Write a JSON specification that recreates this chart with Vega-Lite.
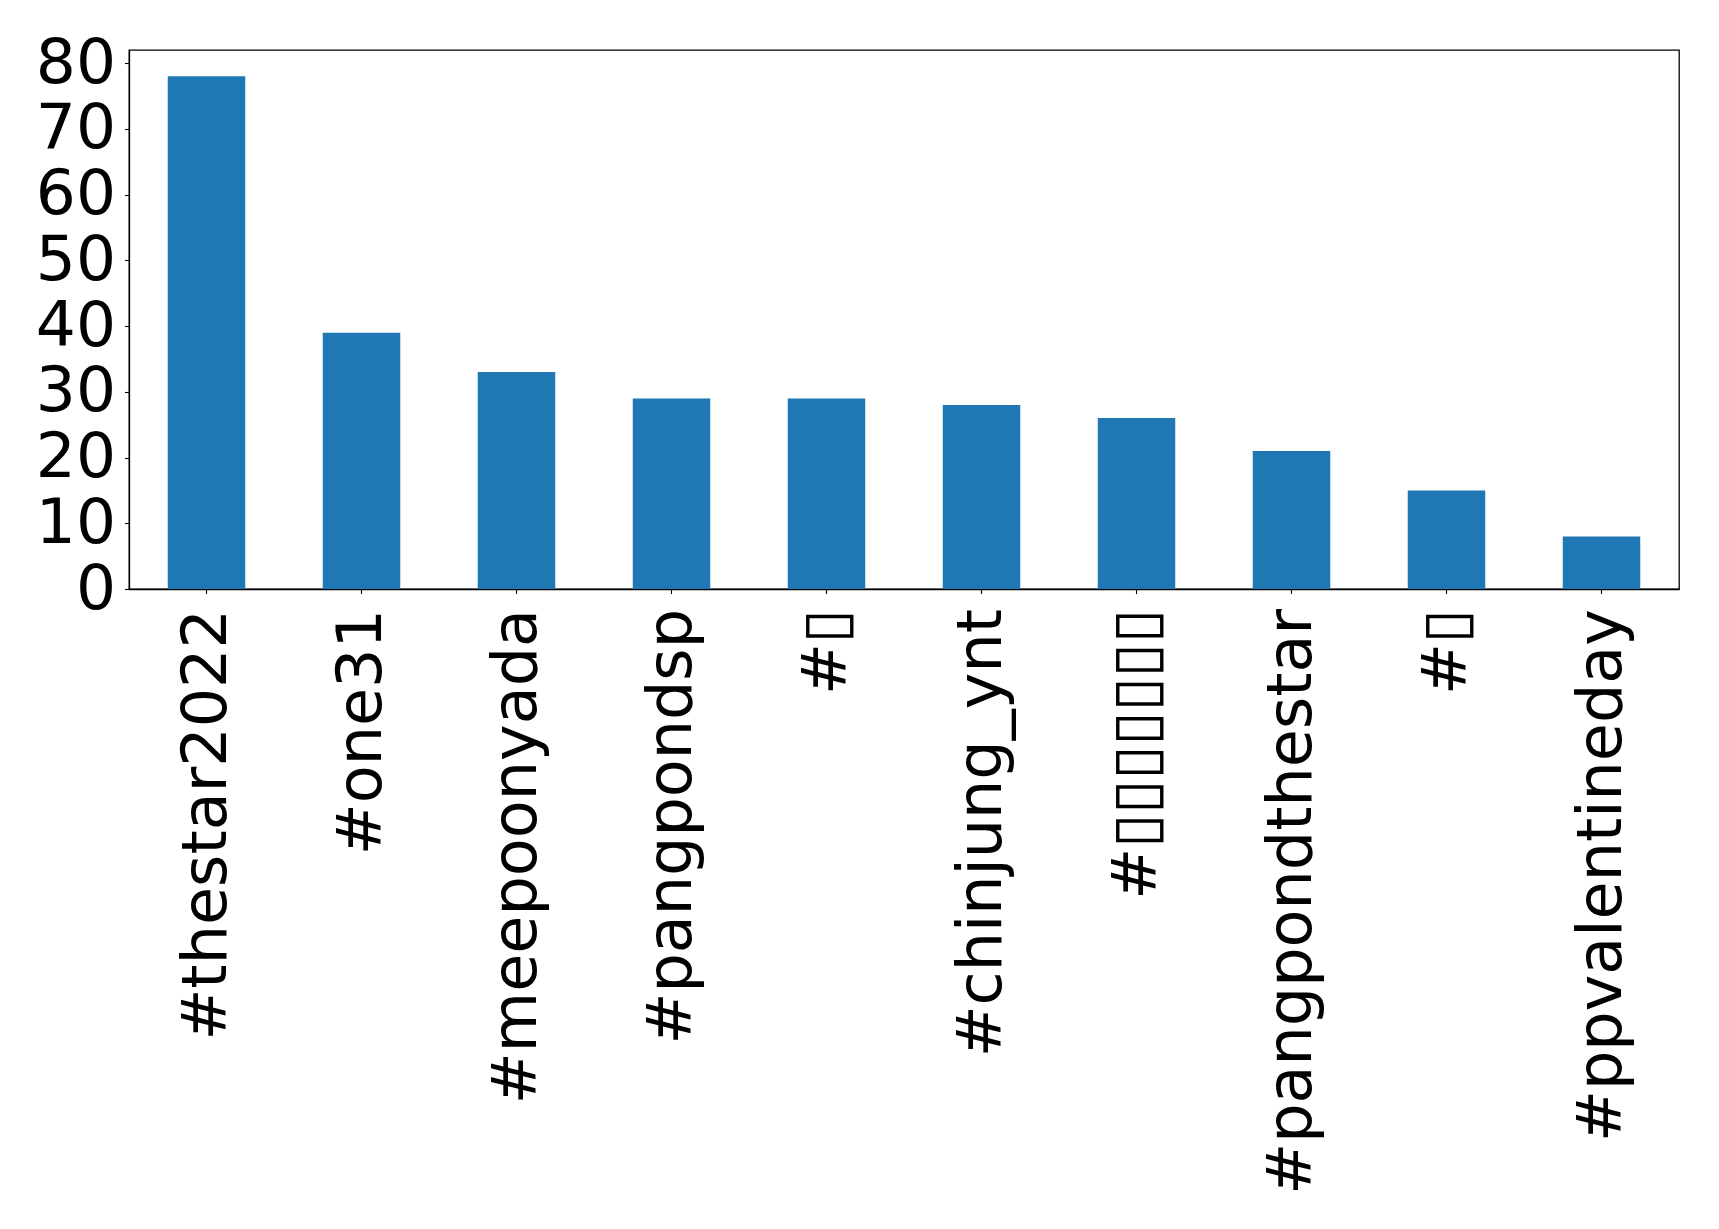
{
  "$schema": "https://vega.github.io/schema/vega-lite/v6.json",
  "width": 1550,
  "height": 539,
  "autosize": {"type": "none"},
  "padding": {"left": 129, "top": 50, "right": 40, "bottom": 640},
  "background": "white",
  "config": {
    "font": "DejaVu Sans",
    "view": {"stroke": "black", "strokeWidth": 1.3},
    "axis": {"grid": false, "domainColor": "black", "domainWidth": 1.3, "tickColor": "black", "tickWidth": 1.1, "tickSize": 4.5, "labelColor": "black", "labelFont": "DejaVu Sans", "titleFontSize": 0}
  },
  "data": {
    "values": [
      {"hashtag": "#thestar2022", "count": 78},
      {"hashtag": "#one31", "count": 39},
      {"hashtag": "#meepoonyada", "count": 33},
      {"hashtag": "#pangpondsp", "count": 29},
      {"hashtag": "#▯", "count": 29},
      {"hashtag": "#chinjung_ynt", "count": 28},
      {"hashtag": "#▯▯▯▯▯▯▯", "count": 26},
      {"hashtag": "#pangpondthestar", "count": 21},
      {"hashtag": "#▯\u200b", "count": 15},
      {"hashtag": "#ppvalentineday", "count": 8}
    ]
  },
  "mark": {"type": "bar", "color": "#1f77b4"},
  "encoding": {
    "x": {
      "field": "hashtag",
      "type": "nominal",
      "sort": null,
      "scale": {"paddingInner": 0.5, "paddingOuter": 0.25},
      "axis": {"title": null, "labelAngle": -90, "labelFontSize": 62, "labelLimit": 0, "labelOverlap": false, "labelPadding": 15}
    },
    "y": {
      "field": "count",
      "type": "quantitative",
      "scale": {"domain": [0, 82], "nice": false},
      "axis": {"title": null, "values": [0, 10, 20, 30, 40, 50, 60, 70, 80], "labelFontSize": 63, "labelPadding": 9, "labelOverlap": false}
    }
  }
}
